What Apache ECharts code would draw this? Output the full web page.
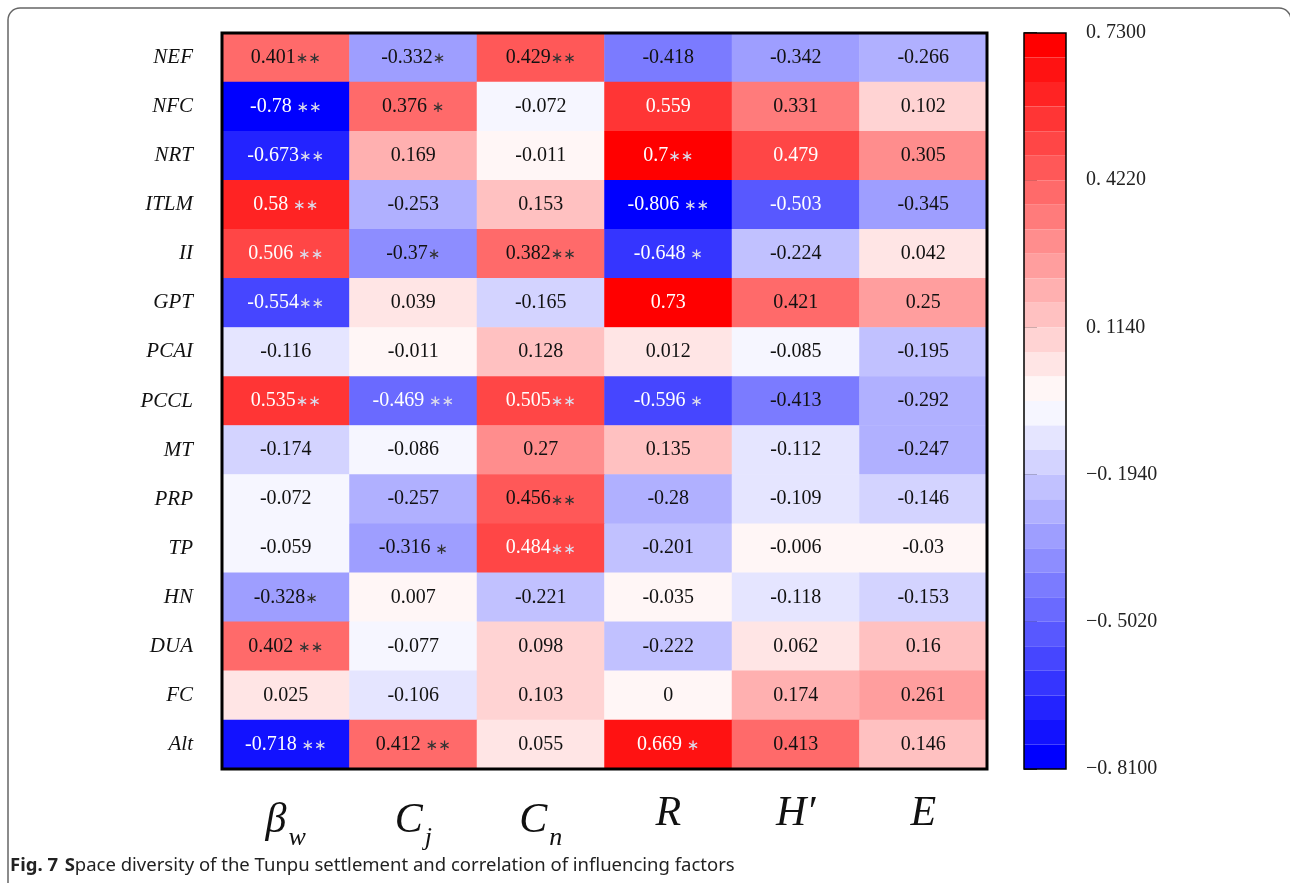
<!DOCTYPE html>
<html>
<head>
<meta charset="utf-8">
<script src="https://cdn.jsdelivr.net/npm/echarts@6/dist/echarts.min.js"></script>
<style>
  html, body { margin: 0; padding: 0; background: #fff; }
  #chart { width: 1290px; height: 883px; }
</style>
</head>
<body>
<div id="chart"></div>
<script>
const factors = ['NEF', 'NFC', 'NRT', 'ITLM', 'II', 'GPT', 'PCAI', 'PCCL', 'MT', 'PRP', 'TP', 'HN', 'DUA', 'FC', 'Alt'];
const indexNames = ['βw', 'Cj', 'Cn', 'R', 'H′', 'E'];
const indexMain = ['β', 'C', 'C', 'R', 'H′', 'E'];
const indexSub = ['w', 'j', 'n', '', '', ''];

// rows follow factors, columns follow indexNames
const corr = [
  [0.401, -0.332, 0.429, -0.418, -0.342, -0.266],
  [-0.78, 0.376, -0.072, 0.559, 0.331, 0.102],
  [-0.673, 0.169, -0.011, 0.7, 0.479, 0.305],
  [0.58, -0.253, 0.153, -0.806, -0.503, -0.345],
  [0.506, -0.37, 0.382, -0.648, -0.224, 0.042],
  [-0.554, 0.039, -0.165, 0.73, 0.421, 0.25],
  [-0.116, -0.011, 0.128, 0.012, -0.085, -0.195],
  [0.535, -0.469, 0.505, -0.596, -0.413, -0.292],
  [-0.174, -0.086, 0.27, 0.135, -0.112, -0.247],
  [-0.072, -0.257, 0.456, -0.28, -0.109, -0.146],
  [-0.059, -0.316, 0.484, -0.201, -0.006, -0.03],
  [-0.328, 0.007, -0.221, -0.035, -0.118, -0.153],
  [0.402, -0.077, 0.098, -0.222, 0.062, 0.16],
  [0.025, -0.106, 0.103, 0, 0.174, 0.261],
  [-0.718, 0.412, 0.055, 0.669, 0.413, 0.146]
];
const sig = [
  ['**', '*', '**', '', '', ''],
  [' **', ' *', '', '', '', ''],
  ['**', '', '', '**', '', ''],
  [' **', '', '', ' **', '', ''],
  [' **', '*', '**', ' *', '', ''],
  ['**', '', '', '', '', ''],
  ['', '', '', '', '', ''],
  ['**', ' **', '**', ' *', '', ''],
  ['', '', '', '', '', ''],
  ['', '', '**', '', '', ''],
  ['', ' *', '**', '', '', ''],
  ['*', '', '', '', '', ''],
  [' **', '', '', '', '', ''],
  ['', '', '', '', '', ''],
  [' **', ' **', '', ' *', '', '']
];
const colorTicks = ['−0. 8100', '−0. 5020', '−0. 1940', '0. 1140', '0. 4220', '0. 7300'];
const colorMin = -0.81;
const colorMax = 0.73;
const colorSteps = 30;

const data = [];
corr.forEach((row, r) => row.forEach((v, c) => data.push([c, r, v, sig[r][c]])));

const serif = '"Liberation Serif", "Times New Roman", serif';
const chart = echarts.init(document.getElementById('chart'));

chart.setOption({
  animation: false,
  backgroundColor: '#fff',
  grid: [
    { left: 222, top: 33, width: 765, height: 736, show: true, borderColor: '#000', borderWidth: 3, backgroundColor: 'transparent', z: 10 },
    { left: 1024, top: 33, width: 42, height: 736, show: true, borderColor: '#000', borderWidth: 1.5, backgroundColor: 'transparent', z: 10 }
  ],
  xAxis: [
    {
      type: 'category', gridIndex: 0, data: indexNames,
      axisLine: { show: false },
      axisTick: { alignWithLabel: true, length: 13, lineStyle: { color: '#000', width: 3 } },
      splitArea: { show: false },
      axisLabel: {
        margin: 22,
        formatter: (v, i) => indexSub[i] ? '{m|' + indexMain[i] + '}{s|' + indexSub[i] + '}' : '{m|' + indexMain[i] + '}',
        rich: {
          m: { fontFamily: serif, fontStyle: 'italic', fontSize: 42, color: '#111', lineHeight: 46 },
          s: { fontFamily: serif, fontStyle: 'italic', fontSize: 26, color: '#111', padding: [34, 0, 0, 2] }
        }
      }
    },
    { type: 'value', gridIndex: 1, show: false, min: 0, max: 1 }
  ],
  yAxis: [
    {
      type: 'category', gridIndex: 0, data: factors, inverse: true,
      axisLine: { show: false },
      axisTick: { alignWithLabel: true, length: 15, lineStyle: { color: '#000', width: 3 } },
      splitArea: { show: false },
      axisLabel: { margin: 29, fontFamily: serif, fontStyle: 'italic', fontSize: 21, color: '#111' }
    },
    {
      type: 'value', gridIndex: 1, position: 'right', min: 0, max: colorSteps, interval: 6,
      axisLine: { show: false },
      splitLine: { show: false },
      axisTick: { show: true, length: 13, lineStyle: { color: '#000', width: 1.5 } },
      axisLabel: {
        margin: 20, fontFamily: serif, fontSize: 20, color: '#222',
        formatter: v => colorTicks[v / 6]
      }
    }
  ],
  visualMap: {
    type: 'piecewise', seriesIndex: 0, dimension: 2,
    min: colorMin, max: colorMax, splitNumber: colorSteps,
    orient: 'vertical', left: 1024, top: 33, padding: 0,
    itemWidth: 42, itemHeight: 736 / colorSteps, itemGap: 0, itemSymbol: 'rect',
    showLabel: false, selectedMode: false, hoverLink: false,
    inRange: { color: ['#0000ff', '#ffffff', '#ff0000'] }
  },
  graphic: [
    {
      type: 'rect', silent: true,
      shape: { x: 8, y: 8, width: 1283, height: 900, r: 12 },
      style: { fill: 'none', stroke: '#666', lineWidth: 1.5 }
    },
    {
      type: 'text', left: 10, top: 856, silent: true,
      style: {
        text: '{b|Fig. 7}  {b|S}{n|pace diversity of the Tunpu settlement and correlation of influencing factors}',
        rich: {
          b: { fontFamily: '"Noto Sans", sans-serif', fontWeight: 'bold', fontSize: 18.5, fill: '#222' },
          n: { fontFamily: '"Noto Sans", sans-serif', fontSize: 18.5, fill: '#222' }
        }
      }
    }
  ],
  series: [{
    type: 'heatmap',
    xAxisIndex: 0, yAxisIndex: 0,
    data: data,
    emphasis: { disabled: true },
    label: {
      show: true,
      formatter: p => {
        const v = p.data[2];
        const dark = Math.abs(v) > 0.46;
        const star = p.data[3].replace(/\*/g, '∗');
        return (dark ? '{w|' : '{k|') + v + '}' + (star ? (dark ? '{ws|' : '{ks|') + star + '}' : '');
      },
      rich: {
        w: { fontFamily: serif, fontSize: 20, color: '#fff' },
        k: { fontFamily: serif, fontSize: 20, color: '#111' },
        ws: { fontFamily: 'DejaVu Sans', fontSize: 15, color: '#dcdcec', padding: [3, 0, 0, 0] },
        ks: { fontFamily: 'DejaVu Sans', fontSize: 15, color: '#333', padding: [3, 0, 0, 0] }
      }
    }
  }]
});
</script>
</body>
</html>
